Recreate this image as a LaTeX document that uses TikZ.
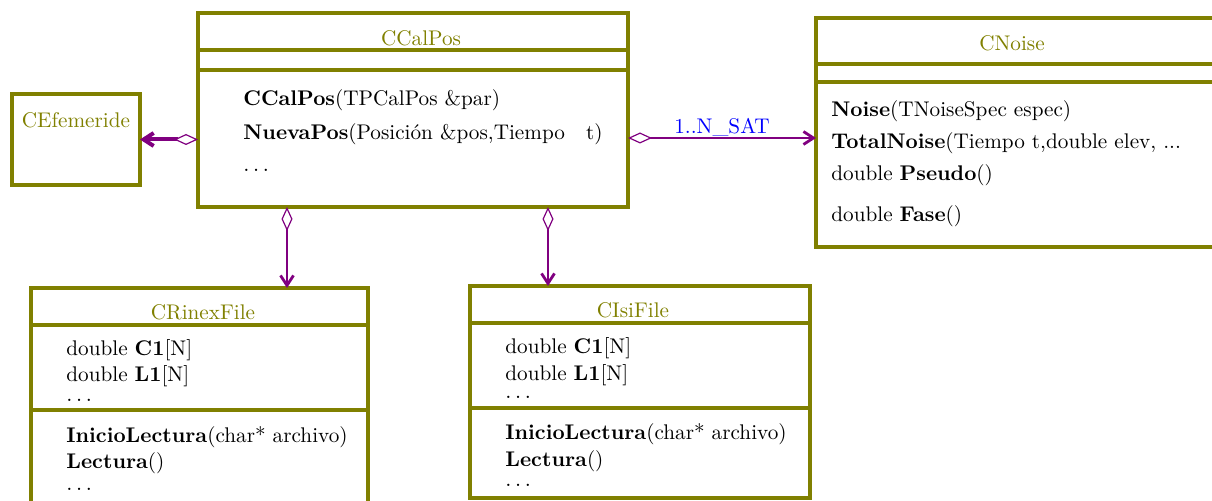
\documentclass[tikz,border=0pt]{standalone}
\usetikzlibrary{arrows.meta,calc}
\definecolor{umlolive}{RGB}{128,128,0}
\definecolor{umlpurple}{RGB}{128,0,128}
\definecolor{umlblue}{RGB}{0,0,255}
\begin{document}
\begin{tikzpicture}[x=0.5pt,y=-0.5pt,
  every node/.style={font=\fontsize{10.6}{12.7}\selectfont},
  classbox/.style={draw=umlolive,line width=1.6pt,rectangle,outer sep=0pt,inner sep=0pt,anchor=north west},
  sepline/.style={draw=umlolive,line width=1.6pt},
  classname/.style={anchor=base,inner sep=0pt,text=umlolive},
  member/.style={anchor=base west,inner sep=0pt},
  assoc/.style={draw=umlpurple,line width=1.4pt,
    {Diamond[open,fill=white,length=12pt,width=5.5pt,line width=0.6pt]}-{Straight Barb[length=5pt,width=6.5pt]}},
  mult/.style={anchor=base,inner sep=0pt,text=umlblue}]
\useasboundingbox (0,0) rectangle (1212,501);
\clip (0,0) rectangle (1212,501);

% class boxes
\node[classbox,minimum width=64pt,minimum height=45.5pt] (efem) at (12,94) {};
\node[classbox,minimum width=215pt,minimum height=97pt] (calpos) at (198,13) {};
\node[classbox,minimum width=207pt,minimum height=114.5pt] (noise) at (816,18) {};
\node[classbox,minimum width=168.5pt,minimum height=111pt] (rinex) at (31,288) {};
\node[classbox,minimum width=170pt,minimum height=106pt] (isi) at (470,286) {};

% compartment separators
\draw[sepline] ($(calpos.north west)+(0,37)$) -- ($(calpos.north east)+(0,37)$);
\draw[sepline] ($(calpos.north west)+(0,57)$) -- ($(calpos.north east)+(0,57)$);
\draw[sepline] ($(noise.north west)+(0,46)$) -- ($(noise.north east)+(0,46)$);
\draw[sepline] ($(noise.north west)+(0,64)$) -- ($(noise.north east)+(0,64)$);
\draw[sepline] ($(rinex.north west)+(0,37)$) -- ($(rinex.north east)+(0,37)$);
\draw[sepline] ($(rinex.north west)+(0,122)$) -- ($(rinex.north east)+(0,122)$);
\draw[sepline] ($(isi.north west)+(0,37)$) -- ($(isi.north east)+(0,37)$);
\draw[sepline] ($(isi.north west)+(0,122)$) -- ($(isi.north east)+(0,122)$);

% class names
\node[classname] (efemname) at (76,128) {CEfemeride};
\node[classname] (calposname) at (421,46) {CCalPos};
\node[classname] (noisename) at (1012,51) {CNoise};
\node[classname] (rinexname) at (203,320) {CRinexFile};
\node[classname] (isiname) at (633,318) {CIsiFile};

% CCalPos operations
\node[member] (cp1) at (243,106) {\textbf{CCalPos}(TPCalPos \&par)};
\node[member] (cp2) at (243,140) {\textbf{NuevaPos}(Posición \&pos,Tiempo\ \ \ t)};
\node[member] (cp3) at (243,172) {$\ldots$};

% CNoise operations
\node[member] (cn1) at (831,117) {\textbf{Noise}(TNoiseSpec espec)};
\node[member] (cn2) at (831,149) {\textbf{TotalNoise}(Tiempo t,double elev, ...};
\node[member] (cn3) at (831,181) {double \textbf{Pseudo}()};
\node[member] (cn4) at (831,222) {double \textbf{Fase}()};

% CRinexFile members
\node[member] (ra1) at (66,356) {double \textbf{C1}[N]};
\node[member] (ra2) at (66,382) {double \textbf{L1}[N]};
\node[member] (ra3) at (66,402) {$\ldots$};
\node[member] (ro1) at (66,443) {\textbf{InicioLectura}(char* archivo)};
\node[member] (ro2) at (66,469) {\textbf{Lectura}()};
\node[member] (ro3) at (66,491) {$\ldots$};

% CIsiFile members
\node[member] (ia1) at (505,354) {double \textbf{C1}[N]};
\node[member] (ia2) at (505,381) {double \textbf{L1}[N]};
\node[member] (ia3) at (505,399) {$\ldots$};
\node[member] (io1) at (505,440) {\textbf{InicioLectura}(char* archivo)};
\node[member] (io2) at (505,467) {\textbf{Lectura}()};
\node[member] (io3) at (505,487) {$\ldots$};

% associations
\coordinate (rowNoise) at (0,138);
\coordinate (colRinex) at (287,0);
\coordinate (colIsi) at (548,0);
\draw[assoc,line width=2pt] (calpos.west |- efem.east) -- (efem.east);
\draw[assoc] (calpos.east |- rowNoise) -- (noise.west |- rowNoise);
\node[mult] (multlabel) at (722,134) {1..N\_SAT};
\draw[assoc] (colRinex |- calpos.south) -- (colRinex |- rinex.north);
\draw[assoc] (colIsi |- calpos.south) -- (colIsi |- isi.north);
\end{tikzpicture}
\end{document}
